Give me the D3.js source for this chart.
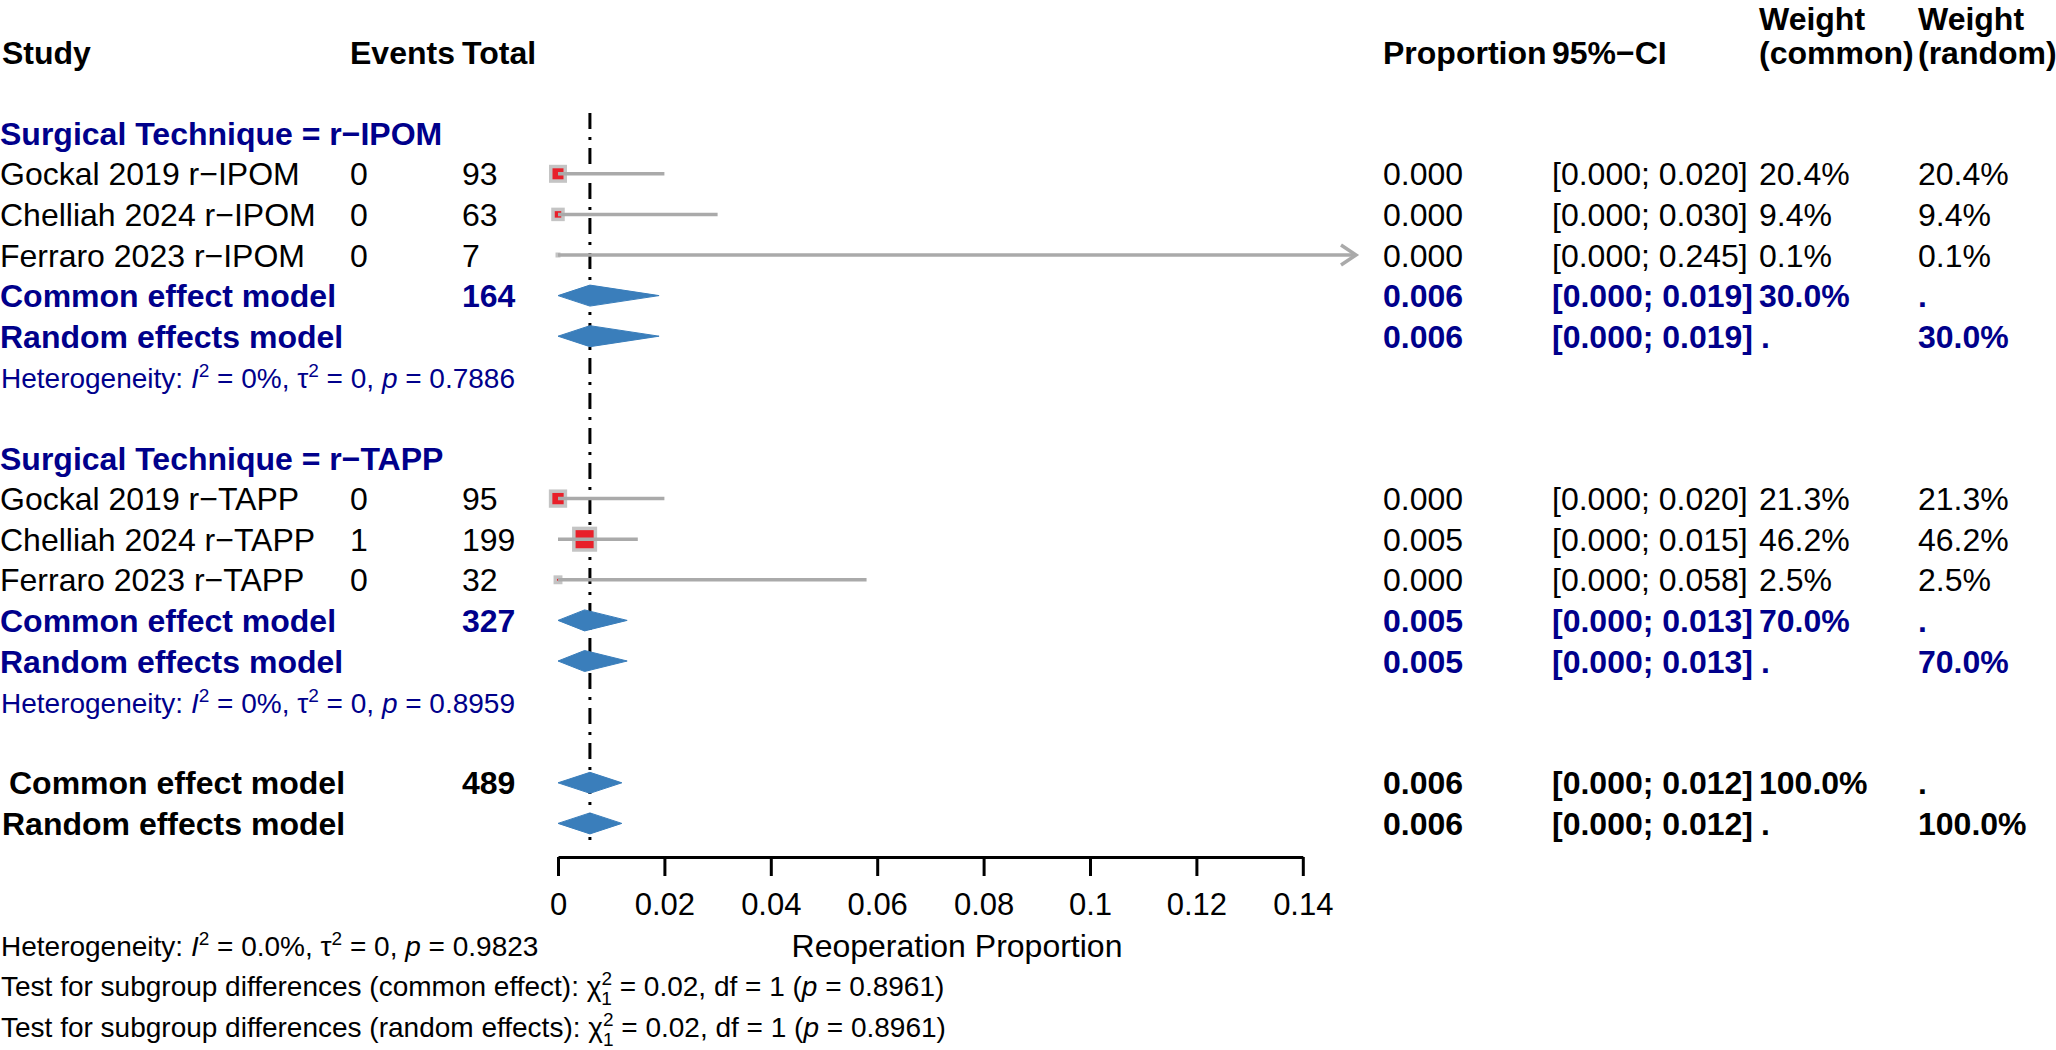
<!DOCTYPE html>
<html><head><meta charset="utf-8">
<script src="https://cdn.jsdelivr.net/npm/d3@7"></script>
<style>
html,body{margin:0;padding:0;background:#fff;}
svg{display:block;font-family:"Liberation Sans",Arial,Helvetica,sans-serif;}
text{white-space:pre;}
</style>
</head><body>
<svg id="chart" width="2056" height="1050"></svg>
<script>
// ---------------- data ----------------
const groups = ["r−IPOM", "r−TAPP"];
const studyLabels = ["Gockal 2019 r−IPOM", "Chelliah 2024 r−IPOM", "Ferraro 2023 r−IPOM",
                     "Gockal 2019 r−TAPP", "Chelliah 2024 r−TAPP", "Ferraro 2023 r−TAPP"];
const studyGroup = [0, 0, 0, 1, 1, 1];
const events = [0, 0, 0, 0, 1, 0];
const totals = [93, 63, 7, 95, 199, 32];
const proportion = [0.000, 0.000, 0.000, 0.000, 0.005, 0.000];
const ciLower = [0.000, 0.000, 0.000, 0.000, 0.000, 0.000];
const ciUpper = [0.020, 0.030, 0.245, 0.020, 0.015, 0.058];
const weightCommon = [20.4, 9.4, 0.1, 21.3, 46.2, 2.5];
const weightRandom = [20.4, 9.4, 0.1, 21.3, 46.2, 2.5];

const groupTotals = [164, 327];
const groupEst = [0.006, 0.005];
const groupLower = [0.000, 0.000];
const groupUpper = [0.019, 0.013];
const groupWeight = [30.0, 70.0];
const groupI2 = ["0%", "0%"];
const groupTau2 = ["0", "0"];
const groupP = ["0.7886", "0.8959"];

const overallTotal = [489];
const overallEst = [0.006];
const overallLower = [0.000];
const overallUpper = [0.012];
const overallWeight = [100.0];
const overallHet = ["0.0%", "0", "0.9823"];       // I2, tau2, p
const subgroupTest = ["0.02", "1", "0.8961"];      // chi2, df, p

const axisTicks = [0, 0.02, 0.04, 0.06, 0.08, 0.10, 0.12, 0.14];
const axisTickLabels = ["0", "0.02", "0.04", "0.06", "0.08", "0.1", "0.12", "0.14"];
const xDomain = [0, 0.15];
const xLabel = "Reoperation Proportion";

// ---------------- layout ----------------
const svg = d3.select("#chart");
svg.append("rect").attr("width", 2056).attr("height", 1050).attr("fill", "#fff");

const DARKBLUE = "#00008B";
const x = d3.scaleLinear().domain(xDomain).range([558, 1356]);
const rowY = d3.scaleLinear().domain([0, 1]).range([52, 92.6]);   // row centre
const base = r => rowY(r) + 11.5;

const col = {study: 1, events: 350, total: 462, prop: 1383, ci: 1552, wc: 1759, wr: 1918};
const fmt3 = d3.format(".3f");
const fmtW = v => d3.format(".1f")(v) + "%";
const ciStr = (l, u) => "[" + fmt3(l) + "; " + fmt3(u) + "]";

function txt(xp, row, s, opt = {}) {
  return svg.append("text")
    .attr("x", xp).attr("y", base(row) + (opt.dy || 0))
    .attr("fill", opt.color || "#000")
    .style("font-size", (opt.size || 32) + "px")
    .style("font-weight", opt.bold ? "bold" : "normal")
    .attr("text-anchor", opt.anchor || "start")
    .text(s);
}

// header
txt(2, 0, "Study", {bold: true});
txt(col.events, 0, "Events", {bold: true});
txt(col.total, 0, "Total", {bold: true});
txt(col.prop, 0, "Proportion", {bold: true});
txt(col.ci, 0, "95%−CI", {bold: true});
txt(col.wc, -1, "Weight", {bold: true, dy: 7});
txt(col.wc, 0, "(common)", {bold: true});
txt(col.wr, -1, "Weight", {bold: true, dy: 7});
txt(col.wr, 0, "(random)", {bold: true});

function hetText(xp, yb, vals, color) {
  const t = svg.append("text").attr("x", xp).attr("y", yb).attr("fill", color).style("font-size", "28px");
  t.append("tspan").text("Heterogeneity: ");
  t.append("tspan").style("font-style", "italic").text("I");
  t.append("tspan").attr("dy", -11).style("font-size", "19px").text("2");
  t.append("tspan").attr("dy", 11).text(" = " + vals[0] + ", τ");
  t.append("tspan").attr("dy", -11).style("font-size", "19px").text("2");
  t.append("tspan").attr("dy", 11).text(" = " + vals[1] + ", ");
  t.append("tspan").style("font-style", "italic").text("p");
  t.append("tspan").text(" = " + vals[2]);
}

function diamond(est, lo, hi, row) {
  const yc = rowY(row), h = 10.5;
  svg.append("path")
    .attr("d", `M${x(lo)},${yc}L${x(est)},${yc - h}L${x(hi)},${yc}L${x(est)},${yc + h}Z`)
    .attr("fill", "#3a7ebb").attr("stroke", "#3a7ebb").attr("stroke-width", 1);
}

// reference line (common dashed + random dotted overlaid)
const refX = x(overallEst[0]);
svg.append("line").attr("x1", refX).attr("x2", refX).attr("y1", 113).attr("y2", 846)
  .attr("stroke", "#000").attr("stroke-width", 3).attr("stroke-dasharray", "16,8,3,8");

const boxLayer = svg.append("g");
const lineLayer = svg.append("g");

groups.forEach((g, gi) => {
  const h = 2 + gi * 8;
  txt(col.study - 1, h, "Surgical Technique = " + g, {bold: true, color: DARKBLUE});
  let k = 0;
  studyLabels.forEach((s, i) => {
    if (studyGroup[i] !== gi) return;
    const r = h + 1 + k; k++;
    txt(col.study - 1, r, s);
    txt(col.events, r, String(events[i]));
    txt(col.total, r, String(totals[i]));
    txt(col.prop, r, fmt3(proportion[i]));
    txt(col.ci, r, ciStr(ciLower[i], ciUpper[i]));
    txt(col.wc, r, fmtW(weightCommon[i]));
    txt(col.wr, r, fmtW(weightRandom[i]));
    // square
    const yc = rowY(r), s0 = 3.1 * Math.sqrt(weightCommon[i]) + 0.5;
    boxLayer.append("rect").attr("x", x(proportion[i]) - s0 / 2).attr("y", yc - s0 / 2)
      .attr("width", s0).attr("height", s0)
      .attr("fill", "#e8202a").attr("stroke", "#c4c4c4").attr("stroke-width", 3.5);
    // CI
    const hiV = Math.min(ciUpper[i], xDomain[1]);
    lineLayer.append("line").attr("x1", x(ciLower[i])).attr("x2", x(hiV)).attr("y1", yc).attr("y2", yc)
      .attr("stroke", "#aaaaaa").attr("stroke-width", 3.5);
    if (ciUpper[i] > xDomain[1]) {
      const xe = x(xDomain[1]);
      lineLayer.append("path").attr("d", `M${xe - 15},${yc - 10}L${xe},${yc}L${xe - 15},${yc + 10}`)
        .attr("fill", "none").attr("stroke", "#aaaaaa").attr("stroke-width", 3.5);
    }
  });
  const rc = h + 4, rr = h + 5;
  txt(col.study - 1, rc, "Common effect model", {bold: true, color: DARKBLUE});
  txt(col.total, rc, String(groupTotals[gi]), {bold: true, color: DARKBLUE});
  txt(col.prop, rc, fmt3(groupEst[gi]), {bold: true, color: DARKBLUE});
  txt(col.ci, rc, ciStr(groupLower[gi], groupUpper[gi]), {bold: true, color: DARKBLUE});
  txt(col.wc, rc, fmtW(groupWeight[gi]), {bold: true, color: DARKBLUE});
  txt(col.wr, rc, ".", {bold: true, color: DARKBLUE});
  txt(col.study - 1, rr, "Random effects model", {bold: true, color: DARKBLUE});
  txt(col.prop, rr, fmt3(groupEst[gi]), {bold: true, color: DARKBLUE});
  txt(col.ci, rr, ciStr(groupLower[gi], groupUpper[gi]), {bold: true, color: DARKBLUE});
  txt(col.wc + 2, rr, ".", {bold: true, color: DARKBLUE});
  txt(col.wr, rr, fmtW(groupWeight[gi]), {bold: true, color: DARKBLUE});
  diamond(groupEst[gi], groupLower[gi], groupUpper[gi], rc);
  diamond(groupEst[gi], groupLower[gi], groupUpper[gi], rr);
  hetText(1, base(h + 6), [groupI2[gi], groupTau2[gi], groupP[gi]], DARKBLUE);
});

// overall
txt(9, 18, "Common effect model", {bold: true});
txt(col.total, 18, String(overallTotal[0]), {bold: true});
txt(col.prop, 18, fmt3(overallEst[0]), {bold: true});
txt(col.ci, 18, ciStr(overallLower[0], overallUpper[0]), {bold: true});
txt(col.wc, 18, fmtW(overallWeight[0]), {bold: true});
txt(col.wr, 18, ".", {bold: true});
txt(2, 19, "Random effects model", {bold: true});
txt(col.prop, 19, fmt3(overallEst[0]), {bold: true});
txt(col.ci, 19, ciStr(overallLower[0], overallUpper[0]), {bold: true});
txt(col.wc + 2, 19, ".", {bold: true});
txt(col.wr, 19, fmtW(overallWeight[0]), {bold: true});
diamond(overallEst[0], overallLower[0], overallUpper[0], 18);
diamond(overallEst[0], overallLower[0], overallUpper[0], 19);

// axis
const xa = x.copy().domain([axisTicks[0], axisTicks[axisTicks.length - 1]])
  .range([x(axisTicks[0]), x(axisTicks[axisTicks.length - 1])]);
const axisG = svg.append("g").attr("transform", "translate(0,857)")
  .call(d3.axisBottom(xa).tickValues(axisTicks).tickSize(19).tickSizeOuter(0).tickPadding(17)
    .tickFormat((d, i) => axisTickLabels[i]));
axisG.select(".domain").attr("stroke", "#000").attr("stroke-width", 3);
axisG.selectAll(".tick line").attr("stroke", "#000").attr("stroke-width", 3);
axisG.selectAll(".tick text").attr("fill", "#000").style("font-size", "31px")
  .style("font-family", '"Liberation Sans",Arial,Helvetica,sans-serif');

svg.append("text").attr("x", (x(xDomain[0]) + x(xDomain[1])) / 2).attr("y", base(22))
  .attr("text-anchor", "middle").style("font-size", "32px").text(xLabel);

// bottom texts
hetText(1, base(22) - 1, overallHet, "#000");
function testText(row, kind) {
  const t = svg.append("text").attr("x", 1).attr("y", base(row) - 1).attr("fill", "#000").style("font-size", "28px");
  t.append("tspan").text("Test for subgroup differences (" + kind + "): χ");
  t.append("tspan").attr("dy", -11).style("font-size", "19px").text("2");
  t.append("tspan").attr("dx", -10.6).attr("dy", 20).style("font-size", "19px").text("1");
  t.append("tspan").attr("dy", -9).text(" = " + subgroupTest[0] + ", df = " + subgroupTest[1] + " (");
  t.append("tspan").style("font-style", "italic").text("p");
  t.append("tspan").text(" = " + subgroupTest[2] + ")");
}
testText(23, "common effect");
testText(24, "random effects");
</script>
</body></html>
